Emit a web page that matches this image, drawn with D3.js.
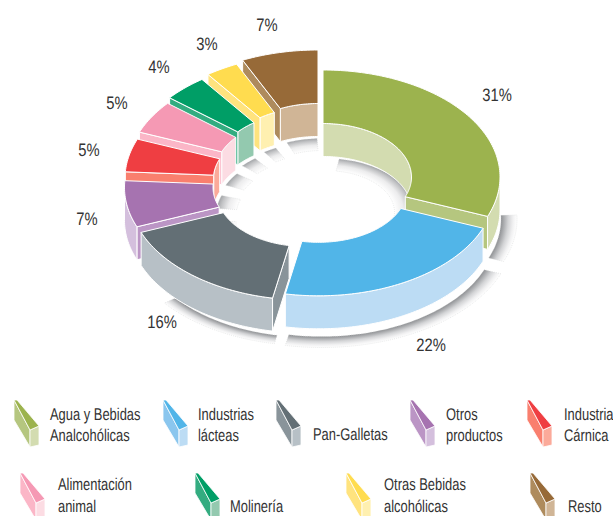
<!DOCTYPE html>
<html><head><meta charset="utf-8">
<script src="https://cdn.jsdelivr.net/npm/d3@7/dist/d3.min.js"></script>
<style>html,body{margin:0;padding:0;background:#fff;overflow:hidden}svg{display:block}</style>
</head><body><svg id="c" width="613" height="516"></svg>
<script>
// ---- data ----
const categories = ["Agua y Bebidas Analcohólicas","Industrias lácteas","Pan-Galletas","Otros productos","Industria Cárnica","Alimentación animal","Molinería","Otras Bebidas alcohólicas","Resto"];
const values = [31,22,16,7,5,5,4,3,7];
const legendLines = [["Agua y Bebidas","Analcohólicas"],["Industrias","lácteas"],["Pan-Galletas"],["Otros","productos"],["Industria","Cárnica"],["Alimentación","animal"],["Molinería"],["Otras Bebidas","alcohólicas"],["Resto"]];

// ---- style / layout ----
const topColors  = ["#9cb34e","#51b5e8","#636f75","#a673b0","#ef3e42","#f599b4","#009e66","#ffdc4f","#976a38"];
const wallColors = ["#d3dcb0","#bcdcf4","#b7c0c6","#d4bfdd","#fbaa9a","#fcdce3","#93c9af","#fff0b0","#d0b596"];
const cutColors  = ["#b5c67f","#8ac6ee","#89949a","#bb95c5","#f97f6e","#fbb6c7","#33ac80","#ffe37e","#ae8b5d"];
const centers = [[323,177],[318.5,188.8],[305.7,193],[301.5,187.4],[302,178.5],[304,171.5],[306,166],[312,161],[318,157]];
const paintOrder = [8,7,6,5,4,0,3,2,1];
const labelPos = [[497,101],[431,351],[162,328],[87,225],[89,156],[117,109],[159,73],[207,50],[267,31]];
const legendIcon = [[14,400],[163,400],[276,400],[410,400],[527,400],[20,473],[195,473],[346,473],[530,473]];
const legendText = [[50,420],[198,420],[313,440],[446,420],[564,420],[58,490],[230,512],[384,490],[568,512]];
const rOuter = 177, rInner = 88.5, tilt = 0.6045, wall = 33;
const rad = d3.scaleLinear().domain([0,360]).range([0,2*Math.PI]);

const svg = d3.select("#c");
const defs = svg.append("defs");
const slices = d3.pie().sort(null).value(d=>d).startAngle(0).endAngle(2*Math.PI)(values);

const pt = (i,r,a,z=0,dx=0)=>[centers[i][0]+dx+r*Math.sin(a), centers[i][1]+z-r*tilt*Math.cos(a)];
const arcPts = (i,r,a0,a1,z=0,dx=0)=>{
  const n=Math.max(2,Math.ceil(Math.abs(a1-a0)/0.02));
  return d3.range(n+1).map(k=>pt(i,r,a0+(a1-a0)*k/n,z,dx));
};
const line = d3.line();
const closed = pts=>line(pts)+"Z";
const q = Math.PI/2;

// ---- shadows ----
const gShadow = svg.append("g");
function shadow(i,r0,r1,a0,a1,fromInner){
  const id="sh"+i+(fromInner?"i":"o");
  const dz=fromInner?wall+2:wall+9, dx=3;
  const cx=centers[i][0]+dx, cy=centers[i][1]+dz;
  const g=defs.append("radialGradient").attr("id",id).attr("gradientUnits","userSpaceOnUse")
    .attr("cx",0).attr("cy",0)
    .attr("gradientTransform",`translate(${cx},${cy}) scale(1,${tilt})`);
  const mx=Math.max(r0,r1);
  g.attr("r",mx);
  const stops=fromInner
    ?[[r1/mx,"#ffffff"],[(r1+(r0-r1)*.45)/mx,"#ececed"],[(r1+(r0-r1)*.8)/mx,"#c2c3c5"],[1,"#a3a5a8"]]
    :[[r0/mx,"#8f9194"],[(r0+(r1-r0)*.45)/mx,"#d3d4d6"],[(r0+(r1-r0)*.75)/mx,"#f0f0f1"],[1,"#ffffff"]];
  stops.forEach(s=>g.append("stop").attr("offset",s[0]).attr("stop-color",s[1]));
  gShadow.append("path")
    .attr("d",closed(arcPts(i,r0,a0,a1,dz,dx).concat(arcPts(i,r1,a1,a0,dz,dx))))
    .attr("fill",`url(#${id})`).attr("stroke","#d2d4d5").attr("stroke-width",.5).attr("stroke-dasharray","1 1");
}
// outer shadows for the front slices, inner shadows for the back slices
slices.forEach((s,i)=>{
  const a0=s.startAngle,a1=s.endAngle;
  if(i===0) shadow(i,rOuter-2,rOuter+14,rad(88),a1,false);
  if(i===1) shadow(i,rOuter-2,rOuter+16,a0,a1,false);
  if(i===2) shadow(i,rOuter-8,rOuter+6,a0,rad(232),false);
  if(i===0) shadow(i,rInner,rInner-20,rad(8.5),rad(96),true);
  if(i>=3){
    const pad=(a1-a0)*.1;
    shadow(i,rInner,rInner-20,Math.max(a0,rad(262))+pad,a1-pad,true);
  }
});

// ---- slices, back to front ----
const gPie = svg.append("g").attr("stroke","#fff").attr("stroke-width",1).attr("stroke-linejoin","round");
paintOrder.forEach(i=>{
  const s=slices[i],a0=s.startAngle,a1=s.endAngle;
  const g=gPie.append("g");
  // inner wall: only the back half of the hole faces the viewer
  [[0,q],[3*q,4*q]].forEach(([lo,hi])=>{
    const b0=Math.max(a0,lo),b1=Math.min(a1,hi);
    if(b1>b0) g.append("path").attr("fill",wallColors[i])
      .attr("d",closed(arcPts(i,rInner,b0,b1).concat(arcPts(i,rInner,b1,b0,wall))));
  });
  // cut faces that look toward the viewer
  const cut=a=>closed([pt(i,rInner,a),pt(i,rOuter,a),pt(i,rOuter,a,wall),pt(i,rInner,a,wall)]);
  if(i===0) g.append("path").attr("fill",cutColors[i]).attr("d",cut(a1));
  if(i>=2) g.append("path").attr("fill",cutColors[i]).attr("d",cut(a0));
  // outer wall: the front half
  const c0=Math.max(a0,q),c1=Math.min(a1,3*q);
  if(c1>c0) g.append("path").attr("fill",wallColors[i])
    .attr("d",closed(arcPts(i,rOuter,c0,c1).concat(arcPts(i,rOuter,c1,c0,wall))));
  // top face
  g.append("path").attr("fill",topColors[i])
    .attr("d",closed(arcPts(i,rOuter,a0,a1).concat(arcPts(i,rInner,a1,a0))));
});

// ---- text helper: the reference uses a narrow sans ----
const narrow = (sel,size,sx)=>sel.attr("font-family","'Liberation Sans',Arial,sans-serif").attr("font-size",size).attr("fill","#333")
  .attr("text-rendering","geometricPrecision")
  .attr("transform",function(){const x=+this.getAttribute("data-x"),y=+this.getAttribute("data-y");return `translate(${x},${y}) scale(${sx},1)`;});

// ---- percentage labels ----
svg.append("g").selectAll("text").data(values).join("text")
  .attr("data-x",(d,i)=>labelPos[i][0]).attr("data-y",(d,i)=>labelPos[i][1])
  .attr("text-anchor","middle").text(d=>d+"%").call(narrow,18,.82);

// ---- legend ----
const leg=svg.append("g");
categories.forEach((c,i)=>{
  const [x,y]=legendIcon[i];
  const g=leg.append("g").attr("transform",`translate(${x},${y})`).attr("stroke","#fff").attr("stroke-width",.8);
  g.append("path").attr("d",closed([[0,0],[16,30],[16,47],[0,20]])).attr("fill",cutColors[i]);
  g.append("path").attr("d",closed([[16,30],[25,26],[25,45],[16,47]])).attr("fill",wallColors[i]);
  g.append("path").attr("d",closed([[0,0],[3,0],[25,26],[16,30]])).attr("fill",topColors[i]);
  const [tx,ty]=legendText[i];
  leg.append("g").selectAll("text").data(legendLines[i]).join("text")
    .attr("data-x",tx).attr("data-y",(d,k)=>ty+k*(i<5?21:22))
    .text(d=>d).call(narrow,17,.76);
});
</script></body></html>
